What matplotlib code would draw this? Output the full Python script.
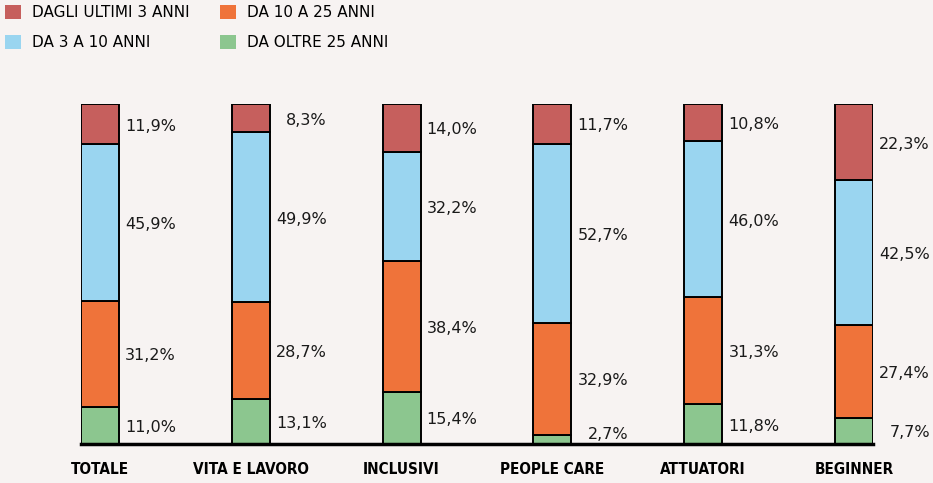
import matplotlib
matplotlib.use("Agg")
import matplotlib.pyplot as plt
from matplotlib.patches import Patch
import matplotlib.transforms as mtransforms
from matplotlib import font_manager
import numpy as np

categories = ["TOTALE", "VITA E LAVORO", "INCLUSIVI", "PEOPLE CARE", "ATTUATORI", "BEGINNER"]
series_names = ["DAGLI ULTIMI 3 ANNI", "DA 3 A 10 ANNI", "DA 10 A 25 ANNI", "DA OLTRE 25 ANNI"]
oltre_25 = [11.0, 13.1, 15.4, 2.7, 11.8, 7.7]
da_10_25 = [31.2, 28.7, 38.4, 32.9, 31.3, 27.4]
da_3_10 = [45.9, 49.9, 32.2, 52.7, 46.0, 42.5]
ultimi_3 = [11.9, 8.3, 14.0, 11.7, 10.8, 22.3]

colors = {"ultimi": "#c65f5d", "3_10": "#9ad5f0", "10_25": "#ef733a", "oltre": "#8cc68f"}
BG = "#f7f3f2"

names = {f.name for f in font_manager.fontManager.ttflist}
narrow = [n for n in ["Liberation Sans Narrow", "DejaVu Sans Condensed"] if n in names]
tick_family = narrow + ["DejaVu Sans"]

fig = plt.figure(figsize=(9.33, 4.83), dpi=100, facecolor=BG)
ax = fig.add_axes([81 / 933, 39 / 483, 792 / 933, 340 / 483])
ax.set_facecolor(BG)

x = np.arange(len(categories))
w = 0.252
stack = [(oltre_25, colors["oltre"]), (da_10_25, colors["10_25"]),
         (da_3_10, colors["3_10"]), (ultimi_3, colors["ultimi"])]
bottom = np.zeros(len(categories))
offset = mtransforms.offset_copy(ax.transData, fig=fig, x=41, y=-1.5, units="points")
for vals, col in stack:
    vals = np.array(vals)
    ax.bar(x, vals, w, bottom=bottom, color=col, edgecolor="black", linewidth=1.4, zorder=2)
    for xi, b, v in zip(x, bottom, vals):
        # keep tiny segments' labels clear of the baseline
        ypos = max(b + v / 2, 3.3)
        ax.text(xi + w / 2, ypos, f"{v:.1f}%".replace(".", ","), transform=offset,
                ha="right", va="center", fontsize=11.5, color="#1a1a1a")
    bottom += vals

ax.set_xlim(-w / 2, len(categories) - 1 + w / 2)
ax.set_ylim(0, 100)
for s in ["top", "right", "left"]:
    ax.spines[s].set_visible(False)
ax.spines["bottom"].set_linewidth(2.5)
ax.spines["bottom"].set_zorder(3)
ax.set_yticks([])
ax.set_xticks(x)
ax.set_xticklabels(categories, fontsize=11, fontweight="bold", fontstretch="condensed",
                   family=tick_family)
ax.tick_params(axis="x", length=0, pad=13)

handles = [Patch(facecolor=colors["ultimi"]), Patch(facecolor=colors["3_10"]),
           Patch(facecolor=colors["10_25"]), Patch(facecolor=colors["oltre"])]
fig.legend(handles, series_names, ncol=2, loc="upper left", bbox_to_anchor=(-0.0095, 1.018),
           frameon=False, fontsize=11, handlelength=1.05, handleheight=1.05,
           handletextpad=0.7, columnspacing=2.0, labelspacing=0.95)

fig.savefig("out.png", dpi=100, facecolor=BG)
